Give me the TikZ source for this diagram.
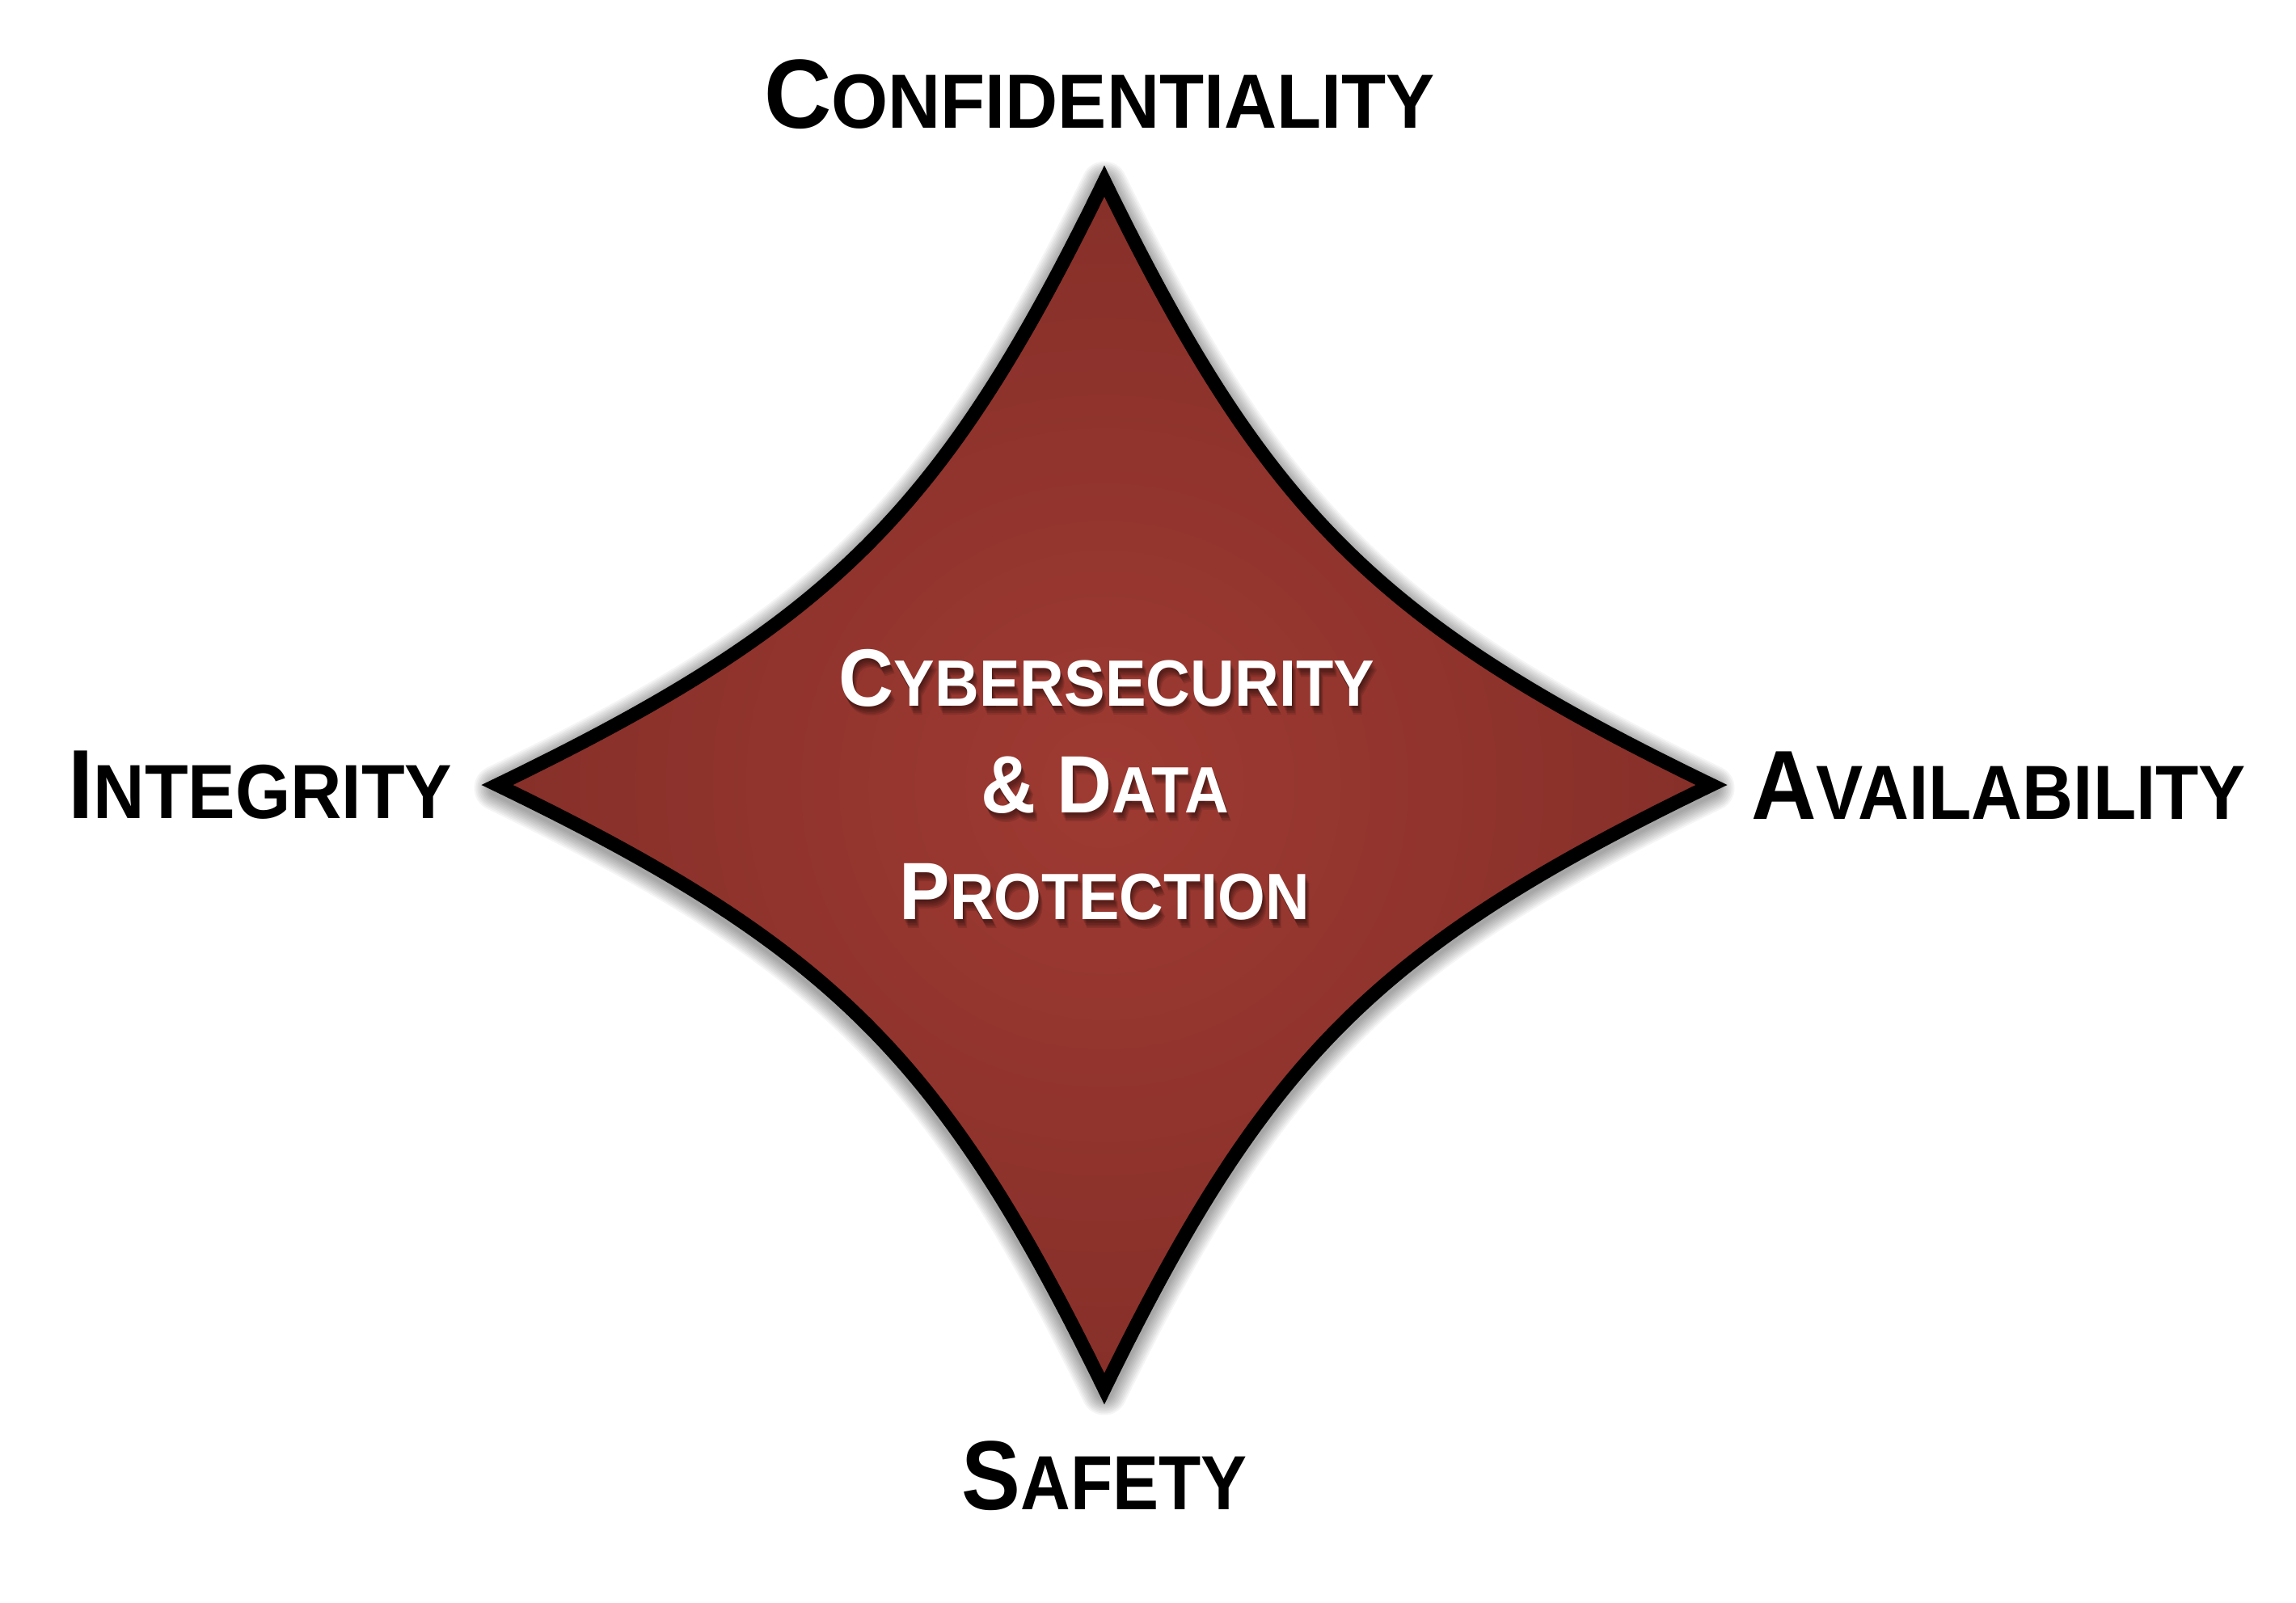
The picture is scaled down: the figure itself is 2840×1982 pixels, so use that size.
\documentclass[tikz,border=0pt]{standalone}
\usepackage{fontspec}
\setmainfont{Liberation Sans}
\usepackage{graphicx}
\usetikzlibrary{calc}
\definecolor{redin}{RGB}{158,58,50}
\definecolor{redout}{RGB}{134,47,41}
\newcommand{\outerlbl}[2]{{\fontsize{121.5}{121.5}\selectfont\bfseries #1}{\fontsize{95}{95}\selectfont\bfseries #2}}
\newcommand{\innerlbl}[2]{{\fontsize{100.6}{100.6}\selectfont\bfseries #1}{\fontsize{81}{81}\selectfont\bfseries #2}}
\tikzset{
  lbl/.style={anchor=base, inner sep=0pt, outer sep=0pt, text=black},
  clbl/.style={anchor=base, inner sep=0pt, outer sep=0pt, text=white},
  cshadow/.style={anchor=base, inner sep=0pt, outer sep=0pt, text=black, text opacity=0.11},
  starline/.style={draw=black, line width=17pt, line join=miter, miter limit=20},
}
\newcommand{\starshape}[1]{\path[#1] (1366,224) .. controls (1566,634) and (1703,771) .. (2117,971) .. controls (1703,1171) and (1566,1308) .. (1366,1718) .. controls (1166,1308) and (1029,1171) .. (615,971) .. controls (1029,771) and (1166,634) .. cycle;}
\newcommand{\ctline}[6]{%
  \foreach \dx/\dy [count=\k] in {1/3,2/5,3/7,4/9,5/11}{
    \node[cshadow] (#1sh\k) at (#2+\dx,#3+\dy) {\resizebox{#4pt}{\height}{\innerlbl{#5}{#6}}};
  }
  \node[clbl] (#1) at (#2,#3) {\resizebox{#4pt}{\height}{\innerlbl{#5}{#6}}};
}
\begin{document}
\begin{tikzpicture}[x=1pt,y=-1pt]
\useasboundingbox (0,0) rectangle (2840,1982);
\fill[white] (0,0) rectangle (2840,1982);
% soft shadow of the star
\foreach \i in {1,...,10}{
  \starshape{draw=black, draw opacity=0.04, line width={17+4*\i}, line join=round, yshift=-4pt}
}
% star body
\starshape{shade, inner color=redin, outer color=redout}
\starshape{starline}
% outer labels
\node[lbl] (conf) at (1360,158) {\resizebox{830pt}{\height}{\outerlbl{C}{ONFIDENTIALITY}}};
\node[lbl] (integ) at (322,1012) {\resizebox{475pt}{\height}{\outerlbl{I}{NTEGRITY}}};
\node[lbl] (avail) at (2472,1013) {\resizebox{612pt}{\height}{\outerlbl{A}{VAILABILITY}}};
\node[lbl] (safety) at (1366,1867) {\resizebox{353pt}{\height}{\outerlbl{S}{AFETY}}};
% centre text
\ctline{cyber}{1369}{873}{662}{C}{YBERSECURITY}
\ctline{data}{1367}{1005}{307}{\& D}{ATA}
\ctline{prot}{1366}{1137}{507}{P}{ROTECTION}
\end{tikzpicture}
\end{document}
